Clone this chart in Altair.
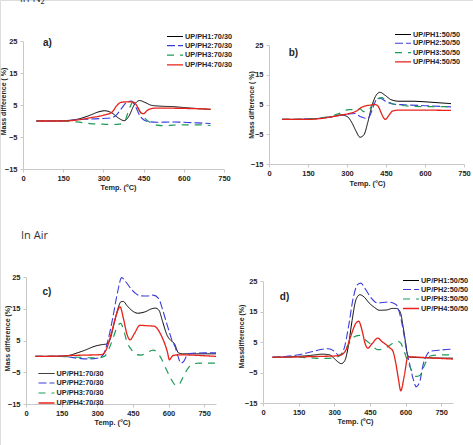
import altair as alt
import pandas as pd

W, H = 473, 445

# ---------------- data ----------------
A_LABELS = ["UP/PH1:70/30", "UP/PH2:70/30", "UP/PH3:70/30", "UP/PH4:70/30"]
B_LABELS = ["UP/PH1:50/50", "UP/PH2:50/50", "UP/PH3:50/50", "UP/PH4:50/50"]

# a) in N2, 70/30
A1_T = [50, 100, 150, 200, 250, 280, 305, 330, 355, 378, 395, 415, 435, 455, 480, 520, 560, 600, 650, 700]
A1_V = [0, 0, 0.1, 0.5, 1.8, 2.8, 3.2, 2.6, 1.0, 0.1, 1.5, 5.0, 6.4, 5.8, 4.9, 4.6, 4.5, 4.2, 3.9, 3.6]
A2_T = [50, 150, 200, 250, 300, 330, 350, 370, 390, 405, 420, 435, 450, 470, 500, 550, 600, 650, 700]
A2_V = [0, 0, 0.4, 0.6, 0.8, 1.0, 2.0, 4.2, 6.0, 6.2, 4.5, 1.8, 0.4, -0.2, -0.4, -0.3, -0.4, -0.6, -0.8]
A3_T = [50, 150, 200, 250, 300, 330, 360, 380, 395, 410, 425, 440, 455, 475, 500, 530, 560, 600, 650, 700]
A3_V = [0, 0, -0.3, -0.8, -1.0, -1.1, -1.0, 0.0, 3.5, 5.8, 4.5, 2.5, 0.8, -0.5, -1.3, -1.5, -1.3, -1.2, -1.2, -1.4]
A4_T = [50, 150, 200, 250, 300, 330, 350, 365, 390, 415, 428, 440, 450, 465, 490, 550, 620, 700]
A4_V = [0, 0, 0.3, 1.0, 1.8, 2.6, 4.8, 5.8, 6.0, 5.8, 4.3, 2.6, 2.3, 3.4, 4.0, 4.0, 3.9, 3.7]

# b) in N2, 50/50
B1_T = [50, 100, 150, 200, 250, 275, 300, 320, 335, 350, 365, 380, 395, 410, 427, 445, 470, 500, 550, 600, 650, 700]
B1_V = [0, 0, 0.1, 0.4, 1.0, 1.5, 1.0, -1.3, -4.0, -6.0, -5.2, -1.0, 4.3, 7.8, 9.1, 8.2, 6.6, 6.1, 6.1, 5.9, 5.6, 5.3]
B2_T = [50, 150, 200, 250, 300, 330, 350, 370, 385, 400, 415, 430, 450, 480, 520, 600, 700]
B2_V = [0, 0.1, 0.4, 1.0, 1.7, 2.0, 1.0, 0.4, 0.8, 4.0, 6.8, 7.0, 6.0, 5.1, 4.9, 4.6, 4.2]
B3_T = [50, 150, 200, 250, 280, 305, 330, 350, 365, 380, 395, 415, 433, 450, 470, 500, 550, 600, 650, 700]
B3_V = [0, 0.1, 0.5, 1.4, 2.3, 3.3, 3.2, 3.5, 2.6, 2.8, 4.5, 6.8, 7.3, 6.4, 5.4, 4.8, 4.4, 4.3, 4.3, 4.2]
B4_T = [50, 150, 200, 250, 280, 310, 340, 355, 370, 390, 405, 418, 430, 440, 448, 460, 475, 500, 600, 700]
B4_V = [0, 0, 0.3, 1.0, 1.5, 2.0, 3.0, 4.0, 4.5, 4.8, 5.0, 4.6, 2.5, 0.6, 0.0, 1.2, 2.8, 3.1, 3.1, 3.0]

# c) in air, 70/30
C1_T = [40, 100, 150, 180, 220, 250, 290, 320, 340, 355, 370, 385, 400, 410, 425, 445, 470, 500, 530, 545, 560, 575, 595, 610, 625, 642, 660, 700, 750, 800]
C1_V = [0, 0, 0.1, 0.3, 1.2, 2.0, 3.2, 3.7, 3.9, 5.5, 10.0, 14.5, 17.2, 17.3, 16.0, 14.5, 13.6, 14.0, 15.0, 15.2, 14.5, 11.0, 6.5, 5.0, 4.0, 1.1, 0.8, 0.8, 0.8, 0.8]
C2_T = [40, 150, 180, 220, 260, 300, 325, 345, 365, 385, 403, 420, 445, 480, 510, 535, 558, 572, 586, 600, 614, 628, 640, 652, 665, 680, 700, 750, 800]
C2_V = [0, 0, -0.2, -0.6, -0.8, -0.6, 0.5, 5.0, 12.0, 20.0, 24.8, 23.5, 21.0, 19.1, 19.0, 19.3, 18.3, 15.5, 12.0, 8.5, 5.2, 3.0, 0.0, -2.1, -1.5, 0.6, 1.0, 1.1, 1.1]
C3_T = [40, 150, 200, 250, 300, 330, 350, 370, 385, 399, 412, 425, 445, 465, 485, 510, 535, 555, 572, 590, 610, 625, 640, 655, 670, 685, 700, 730, 800]
C3_V = [0, 0, -0.2, -0.4, -0.5, 0.0, 2.5, 6.5, 9.5, 10.4, 8.0, 4.6, 2.0, 0.6, 0.4, 1.2, 2.0, 1.0, -1.0, -4.0, -7.0, -8.8, -9.2, -7.5, -5.2, -3.5, -2.5, -2.1, -2.1]
C4_T = [40, 150, 200, 250, 300, 320, 340, 360, 380, 396, 410, 425, 438, 455, 480, 500, 520, 540, 555, 570, 585, 595, 604, 612, 620, 650, 700, 750, 800]
C4_V = [0, 0.1, 0.3, 0.4, 0.5, 0.6, 2.5, 7.5, 13.0, 15.6, 12.0, 7.0, 5.2, 7.0, 9.8, 9.7, 9.6, 9.5, 8.5, 6.5, 3.8, 1.5, -1.1, -0.3, 0.3, 0.5, 0.4, 0.2, 0.0]

# d) in air, 50/50
D1_T = [40, 100, 150, 200, 250, 280, 300, 315, 330, 345, 360, 375, 392, 408, 425, 447, 470, 490, 520, 545, 562, 578, 590, 600, 610, 625, 700, 800]
D1_V = [0, 0.1, 0.3, 0.6, 1.0, 0.8, -0.4, -1.5, -2.1, -1.0, 4.0, 12.0, 19.0, 20.5, 19.8, 17.8, 16.3, 15.4, 15.5, 16.0, 16.0, 14.8, 10.0, 5.0, 0.5, 0.0, -0.2, -0.3]
D2_T = [40, 100, 150, 200, 250, 275, 300, 320, 340, 360, 380, 398, 412, 430, 455, 483, 525, 560, 575, 590, 605, 618, 632, 645, 660, 674, 690, 702, 740, 800]
D2_V = [0, 0.3, 0.8, 1.7, 2.6, 2.8, 2.0, 0.6, 2.5, 10.0, 19.5, 23.8, 24.3, 22.5, 19.5, 17.8, 18.1, 17.3, 14.5, 9.0, 2.0, -2.4, -7.0, -9.7, -8.0, -2.5, 0.8, 1.9, 2.3, 2.7]
D3_T = [40, 150, 200, 250, 300, 330, 355, 380, 405, 425, 447, 465, 483, 500, 520, 545, 567, 580, 592, 603, 615, 630, 645, 660, 675, 690, 705, 730, 800]
D3_V = [0, 0, -0.2, -0.4, -0.2, 1.0, 3.5, 6.5, 7.2, 6.0, 4.7, 3.4, 2.5, 2.6, 3.2, 4.5, 5.2, 4.6, 2.5, 0.0, -2.5, -5.0, -6.3, -6.0, -3.5, -1.0, 0.4, 0.7, 0.8]
D4_T = [40, 150, 200, 250, 300, 330, 350, 370, 390, 403, 418, 430, 441, 460, 483, 500, 519, 535, 547, 558, 570, 580, 595, 610, 630, 700, 800]
D4_V = [0, 0.1, 0.2, 0.3, 0.4, 0.8, 2.5, 7.0, 11.0, 11.8, 8.5, 4.5, 3.0, 4.5, 6.3, 5.2, 4.1, 3.0, 2.0, -1.5, -7.0, -11.0, -6.0, 0.0, 0.1, -0.2, -0.6]

X_TICKS = [0, 150, 300, 450, 600, 750]
Y_TICKS = [-15, -5, 5, 15, 25]

# ---------------- styles ----------------
FONT = "Liberation Sans"
TXT = "#262626"
AXC = "#c8c8c8"
COLORS = ["#000000", "#3b3bdc", "#1e9b5a", "#e8221b"]
DASHES = [[1, 0], [8, 3], [7, 6], [1, 0]]
WIDTHS = [1.0, 1.3, 1.3, 1.7]


def series_df(labels, Ts, Vs):
    rows = []
    for lab, T, V in zip(labels, Ts, Vs):
        for t, v in zip(T, V):
            rows.append({"series": lab, "T": t, "v": v})
    return pd.DataFrame(rows)


def panel(df, labels, xmax, xr, yr, xtitle, ytitle, xt_x, xt_y, yt_x, yt_y,
          leg_x, leg_y, row_pad, tag, tag_T, tag_v):
    xs = alt.Scale(domain=[0, xmax], range=xr, nice=False, zero=False)
    ys = alt.Scale(domain=[-15, 25], range=yr, nice=False, zero=False)
    common = dict(grid=False, domainColor=AXC, tickColor=AXC, tickSize=3,
                  labelFont=FONT, labelFontSize=7.5, labelFontWeight="bold",
                  labelColor=TXT, titleFont=FONT, titleFontWeight="bold",
                  titleColor=TXT, labelOverlap=False, labelFlush=False)
    xax = alt.Axis(orient="bottom", offset=yr[0] - H, values=X_TICKS,
                   title=xtitle, labelPadding=2, titleFontSize=7.3,
                   titleX=xt_x, titleY=xt_y, titleBaseline="middle", **common)
    yax = alt.Axis(orient="left", offset=-xr[0], values=Y_TICKS,
                   title=ytitle, labelPadding=3, titleFontSize=7,
                   titleX=yt_x, titleY=yt_y, titleBaseline="middle",
                   titleAngle=270, **common)
    leg = alt.Legend(orient="none", legendX=leg_x, legendY=leg_y, title=None,
                     symbolType="M-2,0H2", symbolSize=64, symbolStrokeWidth=1.4,
                     labelFont=FONT, labelFontSize=7.3, labelFontWeight="bold",
                     labelColor=TXT, rowPadding=row_pad, padding=0,
                     labelOffset=5)
    lines = alt.Chart(df).mark_line(interpolate="monotone").encode(
        x=alt.X("T:Q", scale=xs, axis=xax),
        y=alt.Y("v:Q", scale=ys, axis=yax),
        color=alt.Color("series:N", scale=alt.Scale(domain=labels, range=COLORS),
                        legend=leg),
        strokeDash=alt.StrokeDash("series:N",
                                  scale=alt.Scale(domain=labels, range=DASHES),
                                  legend=leg),
        strokeWidth=alt.StrokeWidth("series:N",
                                    scale=alt.Scale(domain=labels, range=WIDTHS),
                                    legend=None),
    )
    tag_df = pd.DataFrame({"T": [tag_T], "v": [tag_v], "t": [tag]})
    label = alt.Chart(tag_df).mark_text(
        font=FONT, fontSize=10, fontWeight="bold", color=TXT,
        align="center", baseline="middle"
    ).encode(
        x=alt.X("T:Q", scale=xs, axis=xax),
        y=alt.Y("v:Q", scale=ys, axis=yax),
        text="t:N",
    )
    return alt.layer(lines, label)


def note(text, x, y):
    return alt.Chart(pd.DataFrame({"t": [text]})).mark_text(
        font="Open Sans", fontSize=11, color="#333333", align="left",
        baseline="alphabetic"
    ).encode(x=alt.value(x), y=alt.value(y), text="t:N")


pa = panel(series_df(A_LABELS, [A1_T, A2_T, A3_T, A4_T], [A1_V, A2_V, A3_V, A4_V]),
           A_LABELS, 750, [23, 224], [169, 41], "Temp. (ºC)", "Mass difference ( %)",
           118, 18, -19.5, 101, 170, 32, 0.6, "a)", 91, 24.4)
pb = panel(series_df(B_LABELS, [B1_T, B2_T, B3_T, B4_T], [B1_V, B2_V, B3_V, B4_V]),
           B_LABELS, 750, [269, 464], [164, 45], "Temp. (°C)", "Mass difference ( %)",
           367, 19, -18, 104.5, 398, 30, 0.3, "b)", 94, 22.3)
pc = panel(series_df(A_LABELS, [C1_T, C2_T, C3_T, C4_T], [C1_V, C2_V, C3_V, C4_V]),
           A_LABELS, 800, [26, 216], [404, 277], "Temp. (°C)", "Mass difference (%)",
           112, 18.3, -18.7, 338, 41.5, 369, 1.0, "c)", 88, 20.3)
pd_ = panel(series_df(B_LABELS, [D1_T, D2_T, D3_T, D4_T], [D1_V, D2_V, D3_V, D4_V]),
            B_LABELS, 800, [263, 453], [403, 281], "Temp. (ºC)", "Massdifference (%)",
            355, 18, -22, 336, 406, 276, 0.5, "d)", 90.5, 19.6)

chart = alt.layer(
    pa, pb, pc, pd_,
    note("in N₂", 20, 1.5),
    note("In Air", 21, 239),
).resolve_scale(
    x="independent", y="independent", color="independent",
    strokeDash="independent", strokeWidth="independent",
).resolve_axis(
    x="independent", y="independent"
).resolve_legend(
    color="independent", strokeDash="independent"
).properties(
    width=W, height=H, padding=0,
    autosize=alt.AutoSizeParams(type="none"),
).configure_view(stroke=None).configure(background="white")

chart.save("out.html", embed_options={"renderer": "svg", "actions": False})
